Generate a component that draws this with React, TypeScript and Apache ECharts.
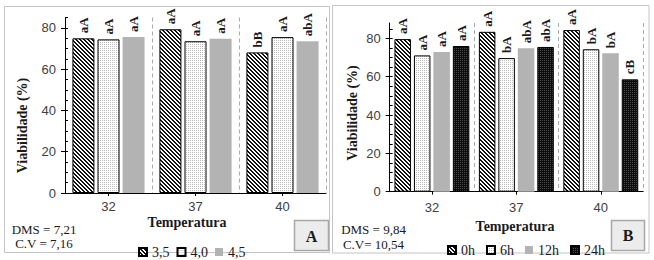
import React, { useEffect, useRef } from 'react';
import * as echarts from 'echarts';

// ---------- data ----------
const categories = ['32', '37', '40'];
const yTickValues = [0, 20, 40, 60, 80];
const yMaxA = 85;
const yMaxB = 88;

const namesA = ['3,5', '4,0', '4,5'];
const valuesA35 = [74.9, 79.3, 68.1];
const valuesA40 = [74.4, 73.5, 75.5];
const valuesA45 = [75.5, 74.7, 73.5];
const labelsA35 = ['aA', 'aA', 'bB'];
const labelsA40 = ['aA', 'aA', 'aA'];
const labelsA45 = ['aA', 'aA', 'abA'];

const namesB = ['0h', '6h', '12h', '24h'];
const valuesB0 = [79.6, 83.4, 84.3];
const valuesB6 = [71.1, 69.7, 74.3];
const valuesB12 = [72.9, 74.8, 72.2];
const valuesB24 = [76.0, 75.5, 58.6];
const labelsB0 = ['aA', 'aA', 'aA'];
const labelsB6 = ['aA', 'bA', 'bA'];
const labelsB12 = ['aA', 'abA', 'bA'];
const labelsB24 = ['aA', 'abA', 'cB'];

const statsA = ['DMS = 7,21', 'C.V = 7,16'];
const statsB = ['DMS = 9,84', 'C.V= 10,54'];

function makePattern(size: number, bg: string, fg: string, pixels: number[][]) {
  const c = document.createElement('canvas');
  c.width = size;
  c.height = size;
  const ctx = c.getContext('2d')!;
  ctx.fillStyle = bg;
  ctx.fillRect(0, 0, size, size);
  ctx.fillStyle = fg;
  pixels.forEach(([x, y]) => ctx.fillRect(x, y, 1, 1));
  return c;
}

const serif = 'Liberation Serif';
const sans = 'Liberation Sans';

export default function App() {
  const ref = useRef<HTMLDivElement>(null);
  useEffect(() => {
    if (!ref.current) return;
    const chart = echarts.init(ref.current, undefined, { renderer: 'svg' });

    const hatch = makePattern(4, '#ffffff', '#111111', [
      [0, 0], [1, 0], [1, 1], [2, 1], [2, 2], [3, 2], [3, 3], [0, 3],
    ]);
    const dots = makePattern(2, '#ffffff', '#bdbdbd', [[0, 0]]);
    const dark = makePattern(2, '#0d0d0d', '#4a4a4a', [[0, 0]]);

    const stHatch = { color: { image: hatch, repeat: 'repeat' }, borderColor: '#000', borderWidth: 1 };
    const stDots = { color: { image: dots, repeat: 'repeat' }, borderColor: '#000', borderWidth: 1 };
    const stGray = { color: '#b3b3b3' };
    const stDark = { color: { image: dark, repeat: 'repeat' }, borderColor: '#000', borderWidth: 1 };

    const minorTicks: number[] = [];
    for (let v = 0; v <= 85; v += 5) minorTicks.push(v);

    const bar = (name: string, data: number[], labels: string[], itemStyle: any, xi: number, yi: number, bw: number, gap: string) => ({
      type: 'bar',
      name,
      data,
      xAxisIndex: xi,
      yAxisIndex: yi,
      barWidth: bw,
      barGap: gap,
      itemStyle,
      label: {
        show: true,
        position: 'top',
        rotate: 90,
        align: 'left',
        verticalAlign: 'middle',
        distance: 5,
        formatter: (p: any) => labels[p.dataIndex],
        fontFamily: serif,
        fontWeight: 'bold',
        fontSize: 13,
        color: '#1a1a1a',
      },
    });

    const xAxis = (gi: number, margin: number) => ({
      type: 'category',
      gridIndex: gi,
      data: categories,
      axisLine: { lineStyle: { color: '#000', width: 1 } },
      axisTick: { show: true, alignWithLabel: true, length: 3, lineStyle: { color: '#000' } },
      axisLabel: { fontFamily: sans, fontSize: 13, color: '#404040', margin },
      splitLine: { show: true, lineStyle: { color: '#aaaaaa', type: [4, 3], width: 1 } },
    });

    const yMain = (gi: number, max: number) => ({
      type: 'value',
      gridIndex: gi,
      min: 0,
      max,
      interval: 20,
      position: 'left',
      axisLine: { show: true, lineStyle: { color: '#000', width: 1 } },
      axisTick: { show: true, length: 4, inside: false, customValues: yTickValues, lineStyle: { color: '#000' } },
      axisLabel: { fontFamily: sans, fontSize: 13, color: '#404040', margin: 9, customValues: yTickValues },
      splitLine: { show: false },
    });
    const yMinor = (gi: number, max: number) => ({
      type: 'value',
      gridIndex: gi,
      min: 0,
      max,
      interval: 5,
      position: 'left',
      axisLine: { show: false },
      axisTick: { show: true, length: 3, inside: true, customValues: minorTicks, lineStyle: { color: '#000' } },
      axisLabel: { show: false },
      splitLine: { show: false },
    });

    const textEl = (text: string, x: number, y: number, font: string, rotation = 0) => ({
      type: 'text',
      x,
      y,
      rotation,
      z: 10,
      style: {
        text,
        font,
        fill: '#1a1a1a',
        align: 'center',
        verticalAlign: 'middle',
        textAlign: 'center',
        textVerticalAlign: 'middle',
      },
    });

    const option: any = {
      animation: false,
      backgroundColor: '#ffffff',
      grid: [
        { left: 65, top: 17.5, width: 261, height: 175.5 },
        { left: 389.7, top: 23, width: 253.3, height: 168.7 },
      ],
      xAxis: [xAxis(0, 7), xAxis(1, 9)],
      yAxis: [yMain(0, yMaxA), yMinor(0, yMaxA), yMain(1, yMaxB), yMinor(1, yMaxB)],
      legend: [
        {
          data: namesA,
          left: 133,
          top: 240,
          icon: 'rect',
          itemWidth: 8,
          itemHeight: 8,
          itemGap: 7,
          selectedMode: false,
          textStyle: { fontFamily: serif, fontSize: 14, color: '#1a1a1a' },
        },
        {
          data: namesB,
          left: 442,
          top: 238,
          icon: 'rect',
          itemWidth: 8,
          itemHeight: 8,
          itemGap: 11,
          selectedMode: false,
          textStyle: { fontFamily: serif, fontSize: 14, color: '#1a1a1a' },
        },
      ],
      series: [
        bar(namesA[0], valuesA35, labelsA35, stHatch, 0, 0, 22, '14%'),
        bar(namesA[1], valuesA40, labelsA40, stDots, 0, 0, 22, '14%'),
        bar(namesA[2], valuesA45, labelsA45, stGray, 0, 0, 22, '14%'),
        bar(namesB[0], valuesB0, labelsB0, stHatch, 1, 2, 16.5, '18%'),
        bar(namesB[1], valuesB6, labelsB6, stDots, 1, 2, 16.5, '18%'),
        bar(namesB[2], valuesB12, labelsB12, stGray, 1, 2, 16.5, '18%'),
        bar(namesB[3], valuesB24, labelsB24, stDark, 1, 2, 16.5, '18%'),
      ],
      graphic: [
        { type: 'rect', z: -1, shape: { x: 4.5, y: 6.5, width: 325, height: 246 }, style: { fill: 'none', stroke: '#c4c4c4', lineWidth: 1 } },
        { type: 'rect', z: -1, shape: { x: 332.5, y: 5.5, width: 316.5, height: 247.5 }, style: { fill: 'none', stroke: '#c4c4c4', lineWidth: 1 } },
        { type: 'rect', z: 5, shape: { x: 294.5, y: 220.5, width: 34, height: 30 }, style: { fill: '#ececec', stroke: '#a8a8a8', lineWidth: 1.5 } },
        { type: 'rect', z: 5, shape: { x: 611.5, y: 220.5, width: 33, height: 30 }, style: { fill: '#ececec', stroke: '#a8a8a8', lineWidth: 1.5 } },
        textEl('A', 311.5, 236, `bold 16px "${serif}"`),
        textEl('B', 628, 235.5, `bold 16px "${serif}"`),
        textEl(statsA[0], 44, 229, `13px "${serif}"`),
        textEl(statsA[1], 44, 243, `13px "${serif}"`),
        textEl(statsB[0], 373.5, 229, `13px "${serif}"`),
        textEl(statsB[1], 373.5, 244, `13px "${serif}"`),
        textEl('Temperatura', 187, 222.5, `bold 14px "${serif}"`),
        textEl('Temperatura', 515, 226.5, `bold 14px "${serif}"`),
        textEl('Viabilidade (%)', 22, 125.5, `bold 14px "${serif}"`, Math.PI / 2),
        textEl('Viabilidade (%)', 352, 113, `bold 14px "${serif}"`, Math.PI / 2),
      ],
    };

    chart.setOption(option);
    return () => chart.dispose();
  }, []);

  return <div ref={ref} style={{ position: 'absolute', left: 0, top: 0, width: 654, height: 260 }} />;
}
